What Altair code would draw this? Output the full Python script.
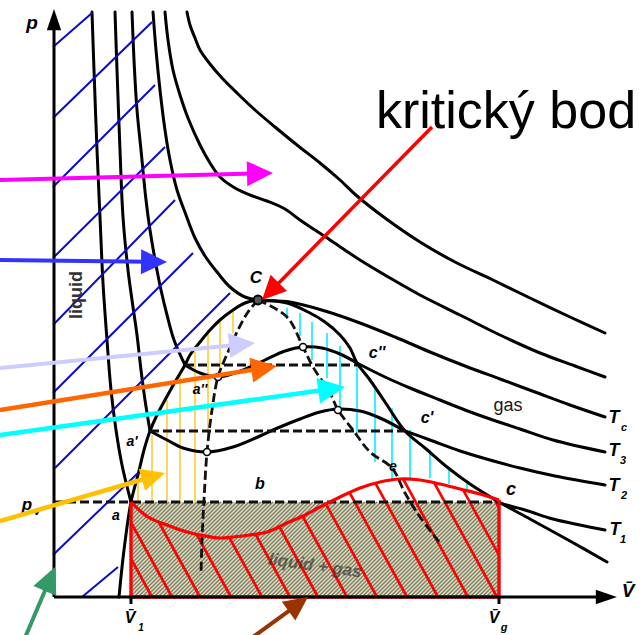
import math
import numpy as np
import pandas as pd
import altair as alt

# Drawing space: x to the right, y downwards, one unit per pixel of the 644 x 635 figure.
W, H = 644, 635

# ---- isotherms ---------------------------------------------------------
T5 = [(187, 12), (190, 25), (195, 38), (200, 50), (210, 64), (222, 78), (237, 93), (255, 110),
      (275, 127), (297, 145), (320, 163), (340, 180), (357, 196), (385, 218), (420, 242),
      (455, 262), (493, 280), (530, 298), (570, 317), (605, 333)]
T4 = [(165, 12), (168, 40), (173, 70), (180, 95), (188, 118), (200, 145), (210, 163), (220, 177),
      (235, 188), (250, 195), (267, 201), (285, 209), (300, 220), (330, 240), (360, 260),
      (390, 278), (420, 295), (460, 315), (500, 335), (540, 353), (575, 366), (605, 377)]
TC = [(153, 12), (156, 50), (160, 90), (165, 130), (170, 160), (177, 190), (186, 215), (195, 238),
      (205, 256), (217, 272), (230, 287), (245, 297), (258, 300), (290, 302), (325, 311),
      (360, 323), (395, 337), (430, 352), (465, 366), (500, 379), (535, 392), (570, 405), (605, 417)]
T3_LIQ = [(132, 12), (134, 60), (137, 110), (141, 150), (146, 200), (150, 230), (156, 265),
          (161, 290), (167, 315), (174, 340), (185, 365)]
T3_LOOP = [(185, 365), (200, 373), (218, 377), (235, 373), (250, 367), (265, 360), (285, 351),
           (303, 347), (322, 348), (340, 354), (357, 363)]
T3_GAS = [(357, 363), (385, 377), (410, 388), (440, 400), (465, 410), (490, 419), (520, 429),
          (553, 440), (605, 452)]
T2_LIQ = [(115, 12), (117, 70), (120, 150), (123, 217), (128, 270), (132, 300), (137, 335),
          (141, 370), (145, 400), (150, 431)]
T2_LOOP = [(150, 431), (167, 440), (183, 448), (207, 452), (233, 447), (260, 436), (280, 427),
           (300, 419), (320, 412), (338, 409), (360, 411), (380, 418), (405, 431)]
T2_GAS = [(405, 431), (430, 440), (460, 451), (490, 460), (520, 468), (555, 476), (605, 485)]
T1_LIQ = [(92, 12), (94, 70), (97, 150), (100, 217), (103, 283), (107, 340), (111, 390),
          (116, 430), (122, 465), (131, 502)]
T1_GAS = [(499, 503), (525, 510), (553, 519), (580, 525), (605, 530)]
# T1 van der Waals loop (red outline of the two-phase region)
T1_LOOP = [(131, 502), (148, 517), (167, 525), (187, 532), (200, 535), (220, 538), (233, 537),
           (250, 535), (267, 532), (287, 523), (303, 516), (320, 507), (340, 497), (360, 488),
           (380, 482), (400, 479), (420, 480), (440, 484), (460, 489), (480, 494), (499, 500)]

# coexistence dome
DOME_L = [(258, 300), (245, 303), (233, 310), (220, 320), (210, 330), (200, 342), (190, 355),
          (185, 365), (175, 382), (165, 400), (157, 415), (150, 431), (144, 450), (138, 475),
          (131, 502), (124, 550), (119, 597)]
DOME_R = [(258, 300), (287, 303), (310, 313), (325, 322), (340, 335), (350, 348), (357, 363),
          (370, 380), (385, 402), (405, 431), (425, 448), (447, 467), (470, 484), (499, 502),
          (530, 519), (570, 541), (607, 562)]

# dashed: tie lines and spinodal
TIE_T1 = [(54, 502), (499, 502)]
TIE_T2 = [(150, 431), (405, 431)]
TIE_T3 = [(185, 365), (357, 365)]
SPIN_L = [(258, 300), (248, 312), (238, 330), (228, 352), (218, 377), (212, 410), (207, 452),
          (204, 500), (202, 540), (201, 575)]
SPIN_R = [(258, 300), (287, 317), (303, 347), (313, 367), (330, 393), (338, 410), (353, 430),
          (370, 452), (392, 468), (405, 493), (420, 517), (440, 543)]

SPIN_POINTS = [(218, 377), (303, 347), (207, 452), (338, 410)]
CRIT_POINT = [(258, 300)]

# two-phase box (V1 .. Vg, p_v .. 0)
BOX = dict(x=131, x2=499, y=502, y2=597)
AXIS_ORIGIN = (54, 597)

# hatch lines
BLUE_HATCH = [((53, 47), (92, 13)), ((53, 118), (152, 22)), ((53, 187), (155, 85)),
              ((53, 258), (165, 147)), ((53, 325), (175, 200)), ((53, 393), (193, 253)),
              ((55, 468), (230, 293)), ((53, 555), (138, 473)), ((82, 597), (118, 567))]
YELLOW_X = [138, 152, 167, 180, 195, 208, 220, 233]
YELLOW_TOP = [482, 435, 400, 373, 352, 330, 318, 310]
YELLOW_BOT = [502, 502, 502, 502, 502, 442, 370, 333]
CYAN_X = [287, 300, 312, 327, 340, 357, 375, 392, 410, 430, 449, 467]
CYAN_TOP = [308, 313, 322, 333, 346, 362, 387, 408, 430, 450, 467, 480]
CYAN_BOT = [319, 336, 360, 378, 410, 436, 462, 479, 479, 478, 484, 489]
RED_HATCH_FOOT = [152, 172, 200, 231, 262, 290, 318, 347, 377, 407, 438, 468, 497, 522, 548]
RED_HATCH_SLOPE = 0.55

# annotation arrows: colour, tail, tip, shaft width, head length
ARROW_COLOR = ["#ff00ff", "#3333ff", "#ccccff", "#ff6600", "#00ffff", "#ffc000",
               "#339966", "#993300", "#ff0000"]
ARROW_TAIL = [(0, 180), (0, 260), (0, 368), (0, 410), (0, 435), (0, 521), (24, 640),
              (253, 637), (432, 127)]
ARROW_TIP = [(273, 173), (167, 262), (255, 343), (277, 366), (345, 387), (165, 473), (55, 567),
             (308, 597), (262, 300)]
ARROW_WIDTH = [4, 4, 4, 4.5, 4.5, 4.5, 4, 4, 3.5]
ARROW_HEAD = [26, 26, 26, 26, 27, 24, 26, 24, 24]

# ---- scales -------------------------------------------------------------
xs = alt.Scale(domain=[0, W], nice=False, zero=False)
ys = alt.Scale(domain=[0, H], nice=False, zero=False, reverse=True)
X = alt.X("x:Q", scale=xs, axis=None)
Y = alt.Y("y:Q", scale=ys, axis=None)


def path_frame(named):
    rows = []
    for name, pts in named:
        for k, (x, y) in enumerate(pts):
            rows.append({"series": name, "i": k, "x": x, "y": y})
    return pd.DataFrame(rows)


def seg_frame(segs, **extra):
    rows = []
    for (a, b), (c, d) in segs:
        r = {"x": a, "y": b, "x2": c, "y2": d}
        r.update(extra)
        rows.append(r)
    return pd.DataFrame(rows)


def rules(df, **props):
    return alt.Chart(df).mark_rule(**props).encode(x=X, y=Y, x2="x2:Q", y2="y2:Q")


def lines(df, **props):
    return alt.Chart(df).mark_line(**props).encode(x=X, y=Y, detail="series:N", order="i:Q")


# ---- two-phase box: khaki fill with fine grey stripes ---------------------
box_df = pd.DataFrame([BOX])
box_fill = alt.Chart(box_df).mark_rect(color="#e2e2b4").encode(
    x=X, x2="x2:Q", y=Y, y2="y2:Q")

stripes = []
for c in np.arange(BOX["x"] + BOX["y"] + 2, BOX["x2"] + BOX["y2"], 4.0):
    ya = min(BOX["y2"], c - BOX["x"])
    xa = c - ya
    yb = max(BOX["y"], c - BOX["x2"])
    xb = c - yb
    if xa <= BOX["x2"] and ya >= BOX["y"]:
        stripes.append(((xa, ya), (xb, yb)))
stripe_layer = rules(seg_frame(stripes), color="#7c7c74", strokeWidth=1.4)

# red hatch inside the loop outline
loop_x = np.array([p[0] for p in T1_LOOP], dtype=float)
loop_y = np.array([p[1] for p in T1_LOOP], dtype=float)
red_segs = []
for foot in RED_HATCH_FOOT:
    if foot <= BOX["x2"]:
        x0, y0 = float(foot), float(BOX["y2"])
    else:
        x0, y0 = float(BOX["x2"]), BOX["y2"] - (foot - BOX["x2"]) / RED_HATCH_SLOPE
    x1, y1 = x0, y0
    for t in np.arange(0, 200, 0.25):
        xx = x0 - RED_HATCH_SLOPE * t
        yy = y0 - t
        if xx < BOX["x"] or yy < np.interp(xx, loop_x, loop_y):
            break
        x1, y1 = xx, yy
    if y0 - y1 > 2:
        red_segs.append(((x0, y0), (x1, y1)))
red_hatch = rules(seg_frame(red_segs), color="#ff0000", strokeWidth=2.6)

yellow = rules(seg_frame([((x, t), (x, b)) for x, t, b in zip(YELLOW_X, YELLOW_TOP, YELLOW_BOT)]),
               color="#ffc000", strokeWidth=1.3)
cyan = rules(seg_frame([((x, t), (x, b)) for x, t, b in zip(CYAN_X, CYAN_TOP, CYAN_BOT)]),
             color="#00f0ff", strokeWidth=1.6)
blue = rules(seg_frame(BLUE_HATCH), color="#0a0ac8", strokeWidth=2)

# ---- isotherms, dome and dashed constructions ---------------------------
black = lines(path_frame([
    ("T5", T5), ("T4", T4), ("Tc", TC),
    ("T3l", T3_LIQ), ("T3o", T3_LOOP), ("T3g", T3_GAS),
    ("T2l", T2_LIQ), ("T2o", T2_LOOP), ("T2g", T2_GAS),
    ("T1l", T1_LIQ), ("T1g", T1_GAS),
    ("domeL", DOME_L), ("domeR", DOME_R),
]), color="black", strokeWidth=3, interpolate="catmull-rom", strokeCap="round",
    strokeJoin="round")

dashed = lines(path_frame([
    ("t1", TIE_T1), ("t2", TIE_T2), ("t3", TIE_T3), ("sl", SPIN_L), ("sr", SPIN_R),
]), color="#111111", strokeWidth=2.8, strokeDash=[9, 4], interpolate="catmull-rom")

red_loop = lines(path_frame([("loop", T1_LOOP)]), color="#ff0000", strokeWidth=3.2,
                 interpolate="catmull-rom")
red_edges = lines(path_frame([("edge", [T1_LOOP[-1], (BOX["x2"], BOX["y2"]),
                                        (BOX["x"], BOX["y2"]), T1_LOOP[0]])]),
                  color="#ff0000", strokeWidth=3.4, strokeJoin="miter")

# ---- axes ---------------------------------------------------------------
ox, oy = AXIS_ORIGIN
axes = rules(seg_frame([((ox, oy), (ox, 26)), ((ox, oy), (598, oy)),
                        ((BOX["x"], oy), (BOX["x"], oy + 7)),
                        ((BOX["x2"], oy), (BOX["x2"], oy + 7))]),
             color="black", strokeWidth=3)
axis_heads = alt.Chart(pd.DataFrame([
    {"x": ox, "y": 9, "angle": 270, "color": "black"},
    {"x": 617, "y": oy, "angle": 0, "color": "black"},
])).mark_point(shape="M0,0L-1,-0.34L-1,0.34Z", filled=True, size=1800, opacity=1,
               strokeWidth=0).encode(
    x=X, y=Y, angle=alt.Angle("angle:Q", scale=None), color=alt.Color("color:N", scale=None))

spin_pts = alt.Chart(pd.DataFrame(SPIN_POINTS, columns=["x", "y"])).mark_point(
    shape="circle", size=50, fill="white", stroke="black", strokeWidth=1.6, opacity=1,
    filled=True, color="white").encode(x=X, y=Y)
crit_pt = alt.Chart(pd.DataFrame(CRIT_POINT, columns=["x", "y"])).mark_point(
    shape="circle", size=80, filled=True, color="#555555", stroke="black", strokeWidth=2,
    opacity=1).encode(x=X, y=Y)

# ---- annotation arrows --------------------------------------------------
shaft_rows, head_rows = [], []
for col, (tx, ty), (hx, hy), w, L in zip(ARROW_COLOR, ARROW_TAIL, ARROW_TIP, ARROW_WIDTH,
                                         ARROW_HEAD):
    dx, dy = hx - tx, hy - ty
    n = math.hypot(dx, dy)
    ux, uy = dx / n, dy / n
    shaft_rows.append({"x": tx, "y": ty, "x2": hx - 0.75 * L * ux, "y2": hy - 0.75 * L * uy,
                       "color": col, "w": w})
    head_rows.append({"x": hx, "y": hy, "angle": math.degrees(math.atan2(dy, dx)) % 360,
                      "color": col, "size": (2 * L) ** 2})
shafts = alt.Chart(pd.DataFrame(shaft_rows)).mark_rule(strokeCap="butt").encode(
    x=X, y=Y, x2="x2:Q", y2="y2:Q", color=alt.Color("color:N", scale=None),
    strokeWidth=alt.StrokeWidth("w:Q", scale=None))
heads = alt.Chart(pd.DataFrame(head_rows)).mark_point(
    shape="M0,0L-1,-0.48L-1,0.48Z", filled=True, opacity=1, strokeWidth=0).encode(
    x=X, y=Y, angle=alt.Angle("angle:Q", scale=None), color=alt.Color("color:N", scale=None),
    size=alt.Size("size:Q", scale=None))

# ---- text ---------------------------------------------------------------
SYMBOLS = [
    ("p", 32, 23, 19), ("p", 27, 505, 17), ("v", 37, 512, 11),
    ("V\u0304", 628, 591, 19),
    ("V\u0304", 130, 618, 16), ("1", 141, 628, 10),
    ("V\u0304", 494, 618, 16), ("g", 504, 628, 11),
    ("T", 614, 418, 18), ("c", 624, 428, 11),
    ("T", 614, 451, 18), ("3", 623, 461, 11),
    ("T", 614, 486, 18), ("2", 624, 496, 11),
    ("T", 615, 530, 18), ("1", 623, 540, 11),
    ("C", 256, 278, 17), ("c''", 377, 353, 16), ("c'", 427, 418, 16), ("c", 511, 490, 18),
    ("a", 116, 516, 14), ("a'", 132, 442, 14), ("a''", 200, 390, 14), ("b", 260, 484, 16),
    ("e", 393, 467, 14),
]


def text_layer(rows, color="black", angle=0, **props):
    df = pd.DataFrame(rows, columns=["t", "x", "y", "s"])
    df["a"] = angle
    return alt.Chart(df).mark_text(color=color, **props).encode(
        x=X, y=Y, text="t:N", size=alt.Size("s:Q", scale=None),
        angle=alt.Angle("a:Q", scale=None))


symbols = text_layer(SYMBOLS, font="Liberation Sans", fontWeight="bold", fontStyle="italic",
                     align="center", baseline="middle")
gas = text_layer([("gas", 508, 406, 18)], color="#1a1a1a", font="Liberation Sans",
                 align="center", baseline="middle")
liquid = text_layer([("liquid", 77, 295, 18)], color="#333333", angle=270,
                    font="Liberation Sans", fontWeight="bold", align="center",
                    baseline="middle")
two_phase = text_layer([("liquid + gas", 315, 566, 17)], color="#2a2a22", angle=8,
                       font="Liberation Sans", fontStyle="italic", fontWeight="bold",
                       align="center", baseline="middle", opacity=0.6)
critical = text_layer([("kritický bod", 376, 128, 52)], font="Liberation Sans",
                      align="left", baseline="alphabetic")

chart = alt.layer(
    box_fill, stripe_layer, yellow, cyan, red_hatch, two_phase, black, blue, dashed,
    red_loop, red_edges, axes, axis_heads, spin_pts, crit_pt,
    symbols, gas, liquid, shafts, heads, critical,
).properties(
    width=W, height=H, autosize=alt.AutoSizeParams(type="none"), padding=0,
    background="white",
).configure_view(stroke=None)

chart.save("out.html", embed_options={"renderer": "svg", "actions": False})
